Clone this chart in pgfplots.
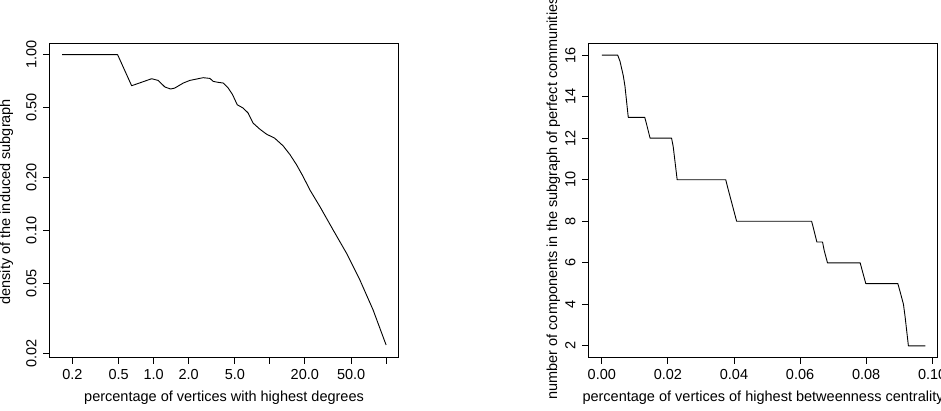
\documentclass[border=0pt]{standalone}
\usepackage{fontspec}
\setmainfont{Liberation Sans}
\usepackage{pgfplots}
\pgfplotsset{compat=1.18}

% density of the subgraph induced by the top-degree vertices
\pgfplotstableread{
x y
0.163 1.000
0.490 1.000
0.647 0.666
0.961 0.730
1.095 0.714
1.25 0.655
1.40 0.638
1.52 0.646
1.80 0.690
2.05 0.714
2.34 0.727
2.67 0.740
3.05 0.733
3.26 0.705
3.59 0.696
3.97 0.690
4.38 0.646
4.78 0.592
5.24 0.519
5.89 0.497
6.50 0.466
7.18 0.408
8.20 0.377
9.37 0.353
11.0 0.335
13.0 0.303
14.9 0.270
17.0 0.236
19.3 0.203
22.1 0.170
26.9 0.137
35.0 0.1007
45.6 0.0743
59.4 0.0524
77.3 0.0353
100 0.0223
}\densitydata

% number of components after removing top-betweenness vertices
\pgfplotstableread{
x y
0.0000 16
0.0048 16
0.0055 15.7
0.0065 15.0
0.0070 14.5
0.0080 13
0.0130 13
0.0135 12.7
0.0146 12
0.0211 12
0.0216 11.6
0.0228 10
0.0375 10
0.0383 9.5
0.0393 8.9
0.0408 8
0.0635 8
0.0640 7.7
0.0651 7
0.0668 7
0.0673 6.6
0.0683 6
0.0782 6
0.0787 5.7
0.0799 5
0.0896 5
0.0903 4.6
0.0913 4
0.0918 3.4
0.0928 2
0.0979 2
}\componentdata

\newcommand\rfont{\fontsize{14.5bp}{17bp}\selectfont}

\pgfplotsset{
  rstyle/.style={
    scale only axis,
    width=349.5bp, height=314bp,
    axis line style={line width=0.9bp, black},
    tick align=outside,
    major tick length=6bp,
    every tick/.style={black, line width=0.9bp},
    xtick pos=bottom, ytick pos=left,
    xminorticks=false, yminorticks=false,
    tick label style={font=\rfont},
    xticklabel style={anchor=center, yshift=-11bp},
    yticklabel style={anchor=center, xshift=-12bp, rotate=90},
    every axis x label/.style={at={(rel axis cs:0.5,0)}, anchor=center,
      yshift=-40bp, font=\rfont},
    every axis y label/.style={at={(rel axis cs:0,0.5)}, anchor=center,
      xshift=-43bp, rotate=90, font=\rfont},
    /pgf/number format/assume math mode=true,
  }
}

\begin{document}
\begin{tikzpicture}
\useasboundingbox (0,0) rectangle (941bp,411bp);
\clip (0,0) rectangle (941bp,411bp);

\begin{axis}[rstyle,
  at={(49.3bp,53.3bp)}, anchor=south west,
  xmode=log, ymode=log,
  xmin=0.1266, xmax=128.6, ymin=0.01888, ymax=1.155,
  xtick={0.2,0.5,1,2,5,10,20,50,100},
  xticklabels={0.2,0.5,1.0,2.0,5.0,,20.0,50.0,},
  ytick={0.02,0.05,0.1,0.2,0.5,1},
  yticklabels={0.02,0.05,0.10,0.20,0.50,1.00},
  xlabel={percentage of vertices with highest degrees},
  ylabel={density of the induced subgraph},
  ylabel style={xshift=-1bp},
]
\addplot[black, line width=0.9bp, line join=round] table[x=x, y=y] {\densitydata};
\end{axis}

\begin{axis}[rstyle,
  at={(588.3bp,53.5bp)}, anchor=south west,
  xmin=-0.0041, xmax=0.1017, ymin=1.44, ymax=16.56,
  xtick={0,0.02,0.04,0.06,0.08,0.1},
  xticklabels={0.00,0.02,0.04,0.06,0.08,0.10},
  ytick={2,4,6,8,10,12,14,16},
  yticklabels={2,4,6,8,10,12,14,16},
  xlabel={percentage of vertices of highest betweenness centrality},
  ylabel={number of components in the subgraph of perfect communities},
  ylabel style={xshift=2bp, yshift=-8bp},
]
\addplot[black, line width=0.9bp, line join=round] table[x=x, y=y] {\componentdata};
\end{axis}
\end{tikzpicture}
\end{document}
